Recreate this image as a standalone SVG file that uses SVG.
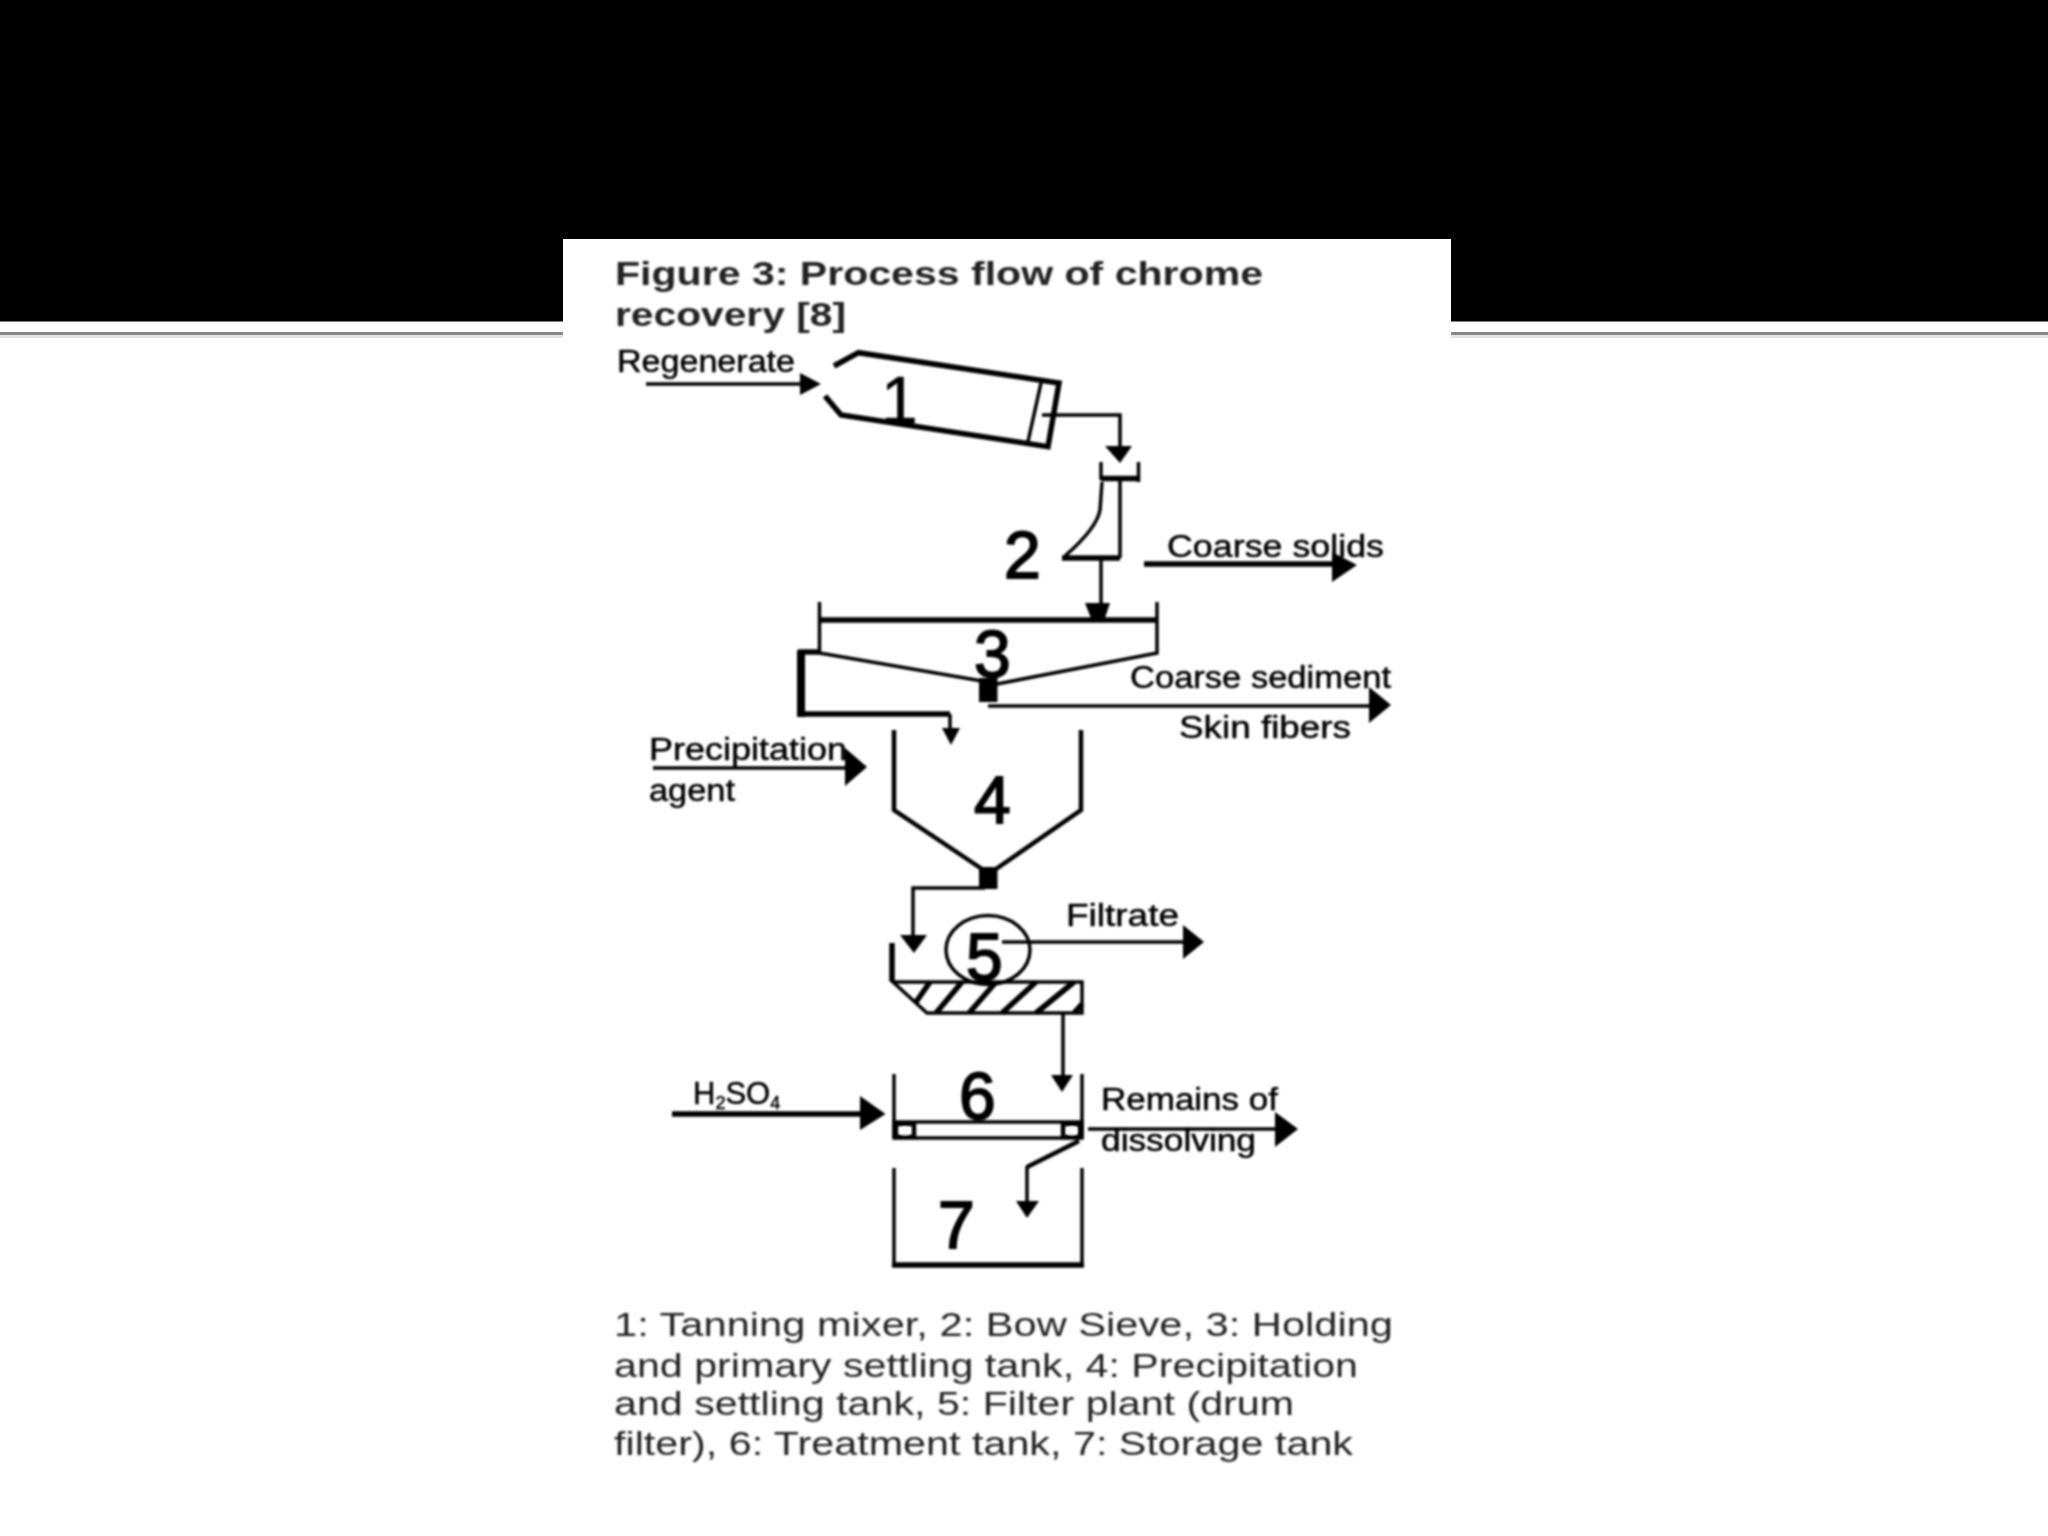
<svg xmlns="http://www.w3.org/2000/svg" width="2048" height="1536" viewBox="0 0 2048 1536">
<defs>
<style>
text{font-family:"Liberation Sans",Arial,sans-serif;fill:#000}
.lbl{font-size:31px;stroke:#000;stroke-width:.5px}
.num{font-size:66px;stroke:#000;stroke-width:1.8px}
.one{stroke-width:.6px}
.ttl{font-size:33px;font-weight:bold;fill:#222}
.cap{font-size:33px;fill:#222}
.s{fill:none;stroke:#000;stroke-width:3.5;stroke-linejoin:miter}
.m{fill:none;stroke:#000;stroke-width:4.500}
.t{fill:none;stroke:#000;stroke-width:5.5}
.f{fill:#000;stroke:none}
</style>
<filter id="soft" x="-2%" y="-2%" width="104%" height="104%"><feGaussianBlur stdDeviation="0.9"/></filter>
</defs>
<rect width="2048" height="1536" fill="#fff"/>
<g id="slide-band">
<rect x="0" y="0" width="2048" height="321.500" fill="#000"/>
<rect x="0" y="332" width="2048" height="3" fill="#888"/>
<rect x="0" y="335" width="2048" height="3" fill="#e4e4e4"/>
</g>
<rect id="paper" x="563" y="239" width="888" height="1297" fill="#fff"/>
<g filter="url(#soft)">
<g id="title">
<text class="ttl" x="615" y="285" textLength="648" lengthAdjust="spacingAndGlyphs">Figure 3: Process flow of chrome</text>
<text class="ttl" x="615" y="326" textLength="231" lengthAdjust="spacingAndGlyphs">recovery [8]</text>
</g>
<g id="connectors">
<path class="s" d="M646 384H802"/><path class="f" d="M800 373L821 384L800 395Z"/>
<path class="s" d="M1042 415H1120V447"/><path class="f" d="M1105 446H1132L1120 463Z"/>
<path class="s" d="M1101 558V605"/><path class="f" d="M1085 603H1110L1104 621H1092Z"/>
<path class="t" d="M1144 564H1335"/><path class="f" d="M1332 552L1357 565L1332 582Z"/>
<path class="t" d="M819 652H801V714H950"/><rect class="f" x="797" y="650" width="8" height="67"/><path class="s" d="M950 714V730"/><path class="f" d="M942 728H960L951 745Z"/>
<path class="s" d="M988 706H1371"/><path class="f" d="M1369 687L1391 705L1369 723Z"/>
<path class="s" d="M653 768H847"/><path class="f" d="M845 748L867 767L845 786Z"/>
<path class="s" d="M985 888H913V937"/><path class="f" d="M900 935H927L914 953Z"/>
<path class="s" d="M1002 942H1185"/><path class="f" d="M1183 925L1204 942L1183 959Z"/>
<path class="s" d="M1063 1013V1077"/><path class="f" d="M1051 1075H1073L1062 1092Z"/>
<path class="t" d="M672 1114H862"/><path class="f" d="M860 1096L885.500 1114L860 1130Z"/>
<path class="s" d="M1088 1129H1277"/><path class="f" d="M1275 1112L1298 1129L1275 1147Z"/>
<path class="m" d="M1079 1141L1027 1167"/><path class="s" d="M1027 1166V1203"/><path class="f" d="M1016 1201H1039L1027 1218Z"/>
</g>
<g id="node-1">
<path class="t" d="M834 366L858.500 352.700L1059 383L1048 446.700L841 415L825 396"/>
<path class="s" d="M1041 383L1028 441.700"/>
<text class="num one" x="881" y="423">1</text>
</g>
<g id="node-2">
<path class="s" d="M1101 462V480M1138.500 462V482M1120 480V558"/>
<path class="t" d="M1101 478.500H1138.500M1062 558H1120"/>
<path class="s" d="M1102 482L1100 510Q1097 528 1065 556"/>
<text class="num" x="1004" y="578">2</text>
</g>
<g id="node-3">
<path class="s" d="M819.500 602V653L982 681M1157 602V653L997 684"/>
<path class="t" d="M819.500 620H1157"/>
<rect class="f" x="979" y="678" width="18.500" height="24"/>
<text class="num" x="974" y="677">3</text>
</g>
<g id="node-4">
<path class="m" d="M894 730V810L982 869M1081 730V810L996 869"/>
<rect class="f" x="979" y="867" width="18.500" height="22"/>
<text class="num" x="974" y="823">4</text>
</g>
<g id="node-5">
<ellipse cx="988" cy="950" rx="42" ry="34.500" class="s" fill="#fff"/>
<path class="t" d="M892 943V981"/>
<path class="s" d="M893 982H1082V1013H927Z"/>
<path class="t" d="M916 1002L930 982M936 1013L962 982M969 1013L996 982M1002 1013L1036 982M1036 1013L1074 982M1074 1013L1082 1004"/>
<text class="num" x="966" y="980">5</text>
</g>
<g id="node-6">
<path class="s" d="M894 1074V1138M1082 1074V1138"/>
<path class="s" d="M894 1122H1082V1138H894Z"/>
<path class="m" d="M896 1124H914V1137H896ZM1063 1124H1080V1137H1063Z"/>
<circle cx="905" cy="1131" r="3.500" fill="#fff"/><circle cx="1072" cy="1131" r="3.500" fill="#fff"/>
<text class="num" x="959" y="1119">6</text>
</g>
<g id="node-7">
<path class="s" d="M894 1168V1265M1082 1168V1265"/>
<path class="t" d="M892 1265H1084"/>
<text class="num" x="938" y="1248">7</text>
</g>
<g id="labels">
<text class="lbl" x="617" y="372" textLength="178" lengthAdjust="spacingAndGlyphs">Regenerate</text>
<text class="lbl" x="1167" y="557" textLength="217" lengthAdjust="spacingAndGlyphs">Coarse solids</text>
<text class="lbl" x="1130" y="688" textLength="261" lengthAdjust="spacingAndGlyphs">Coarse sediment</text>
<text class="lbl" x="1179" y="738" textLength="172" lengthAdjust="spacingAndGlyphs">Skin fibers</text>
<text class="lbl" x="649" y="760" textLength="198" lengthAdjust="spacingAndGlyphs">Precipitation</text>
<text class="lbl" x="649" y="801" textLength="86" lengthAdjust="spacingAndGlyphs">agent</text>
<text class="lbl" x="1066" y="926" textLength="113" lengthAdjust="spacingAndGlyphs">Filtrate</text>
<text class="lbl" x="693" y="1104">H<tspan font-size="18" dy="5">2</tspan><tspan dy="-5">SO</tspan><tspan font-size="18" dy="5">4</tspan></text>
<text class="lbl" x="1101" y="1110" textLength="177" lengthAdjust="spacingAndGlyphs">Remains of</text>
<text class="lbl" x="1101" y="1151" textLength="155" lengthAdjust="spacingAndGlyphs">dissolving</text>
</g>
<g id="caption">
<text class="cap" x="614" y="1336" textLength="779" lengthAdjust="spacingAndGlyphs">1: Tanning mixer, 2: Bow Sieve, 3: Holding</text>
<text class="cap" x="614" y="1377" textLength="744" lengthAdjust="spacingAndGlyphs">and primary settling tank, 4: Precipitation</text>
<text class="cap" x="614" y="1415" textLength="680" lengthAdjust="spacingAndGlyphs">and settling tank, 5: Filter plant (drum</text>
<text class="cap" x="614" y="1455" textLength="739" lengthAdjust="spacingAndGlyphs">filter), 6: Treatment tank, 7: Storage tank</text>
</g>
</g>
</svg>
